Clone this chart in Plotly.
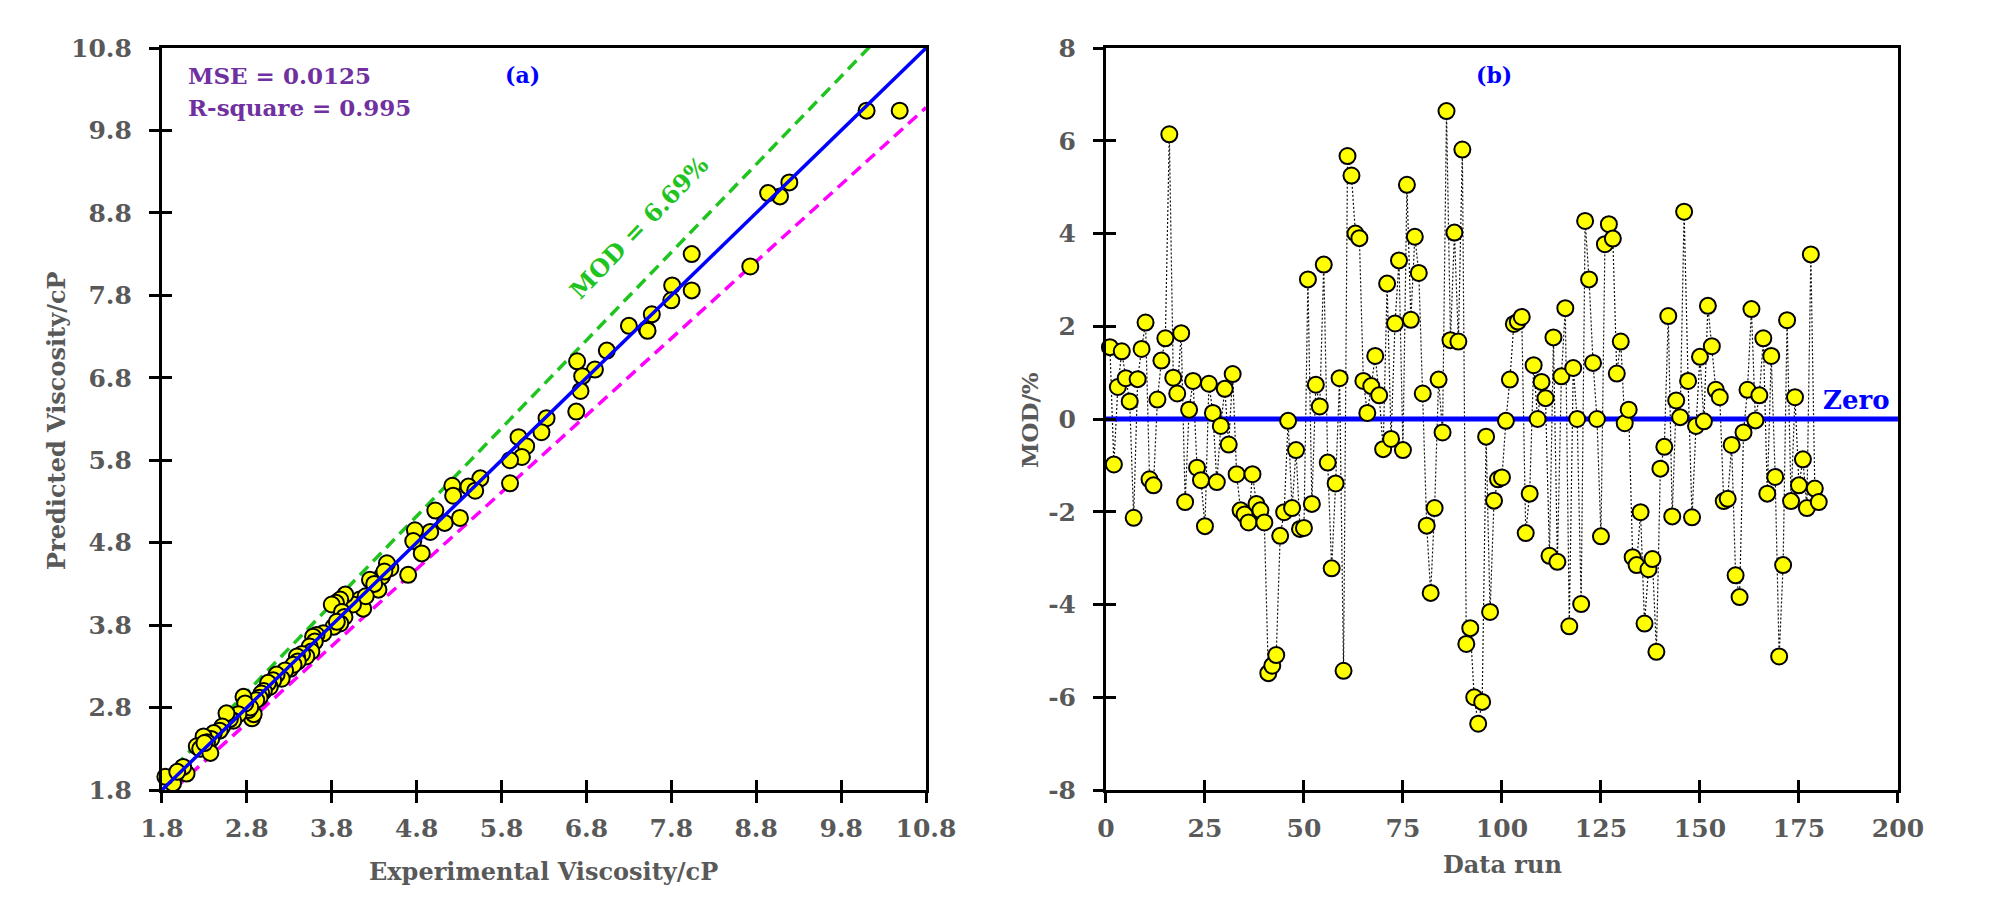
import plotly.graph_objects as go

# ---- panel (a): experimental vs predicted viscosity (cP) ----
exp_visc = [10.49, 10.10, 9.19, 9.08, 8.94, 8.73, 8.04, 8.04, 7.81, 7.80, 7.57, 7.51, 7.52, 7.30,
            7.04, 6.69, 6.90, 6.75, 6.73, 6.68, 6.33, 6.27, 6.00, 6.09, 6.04, 5.90, 5.90, 5.55,
            5.41, 5.49, 5.22, 5.23, 5.02, 5.13, 5.31, 4.96, 4.78, 4.76, 4.86, 4.70,
            4.49, 4.45, 4.39, 4.42, 4.25, 4.35, 4.30, 4.13, 4.17, 4.20, 4.05, 3.96, 3.90, 3.85,
            3.80, 3.92, 3.95, 3.90, 3.82, 3.86, 3.70, 3.62, 3.58, 3.60, 3.54, 3.56, 3.50, 3.45,
            3.39, 3.40, 3.31, 3.35, 3.25, 3.21, 3.15, 3.11, 3.07, 3.05, 3.00, 2.97, 2.95, 2.91,
            2.86, 2.88, 2.82, 2.84, 2.76, 2.78, 2.70, 2.64, 2.60, 2.56, 2.51, 2.48, 2.41, 2.38,
            2.29, 2.33, 2.21, 2.25, 2.37, 2.30, 2.09, 2.05, 1.93, 1.84, 1.98]
pred_visc = [10.04, 10.04, 9.17, 9.00, 9.04, 8.15, 8.30, 7.86, 7.92, 7.74, 7.57, 7.39, 7.37, 7.43,
             7.13, 7.00, 6.90, 6.82, 6.64, 6.39, 6.31, 6.14, 6.08, 5.97, 5.84, 5.80, 5.52, 5.58,
             5.48, 5.43, 5.49, 5.37, 5.19, 5.04, 5.10, 4.93, 4.95, 4.82, 4.67, 4.41,
             4.49, 4.55, 4.39, 4.45, 4.35, 4.23, 4.30, 4.11, 4.00, 4.15, 4.05, 4.17, 4.11, 4.07,
             4.05, 3.96, 3.90, 3.82, 3.78, 3.84, 3.70, 3.68, 3.66, 3.60, 3.54, 3.48, 3.42, 3.45,
             3.42, 3.36, 3.27, 3.32, 3.25, 3.15, 3.20, 3.13, 3.05, 3.10, 3.00, 2.97, 2.92, 2.89,
             2.67, 2.72, 2.77, 2.80, 2.93, 2.85, 2.72, 2.64, 2.66, 2.73, 2.57, 2.52, 2.49, 2.42,
             2.45, 2.38, 2.33, 2.30, 2.25, 2.37, 2.00, 2.08, 1.88, 1.96, 2.02]

mod_pct = 6.69
diag_x = [1.8, 10.8]
visc_ticks = [1.8, 2.8, 3.8, 4.8, 5.8, 6.8, 7.8, 8.8, 9.8, 10.8]

# ---- panel (b): MOD per data run (%) ----
mod_values = [1.55, -0.98, 0.69, 1.46, 0.88, 0.38, -2.13, 0.86, 1.51, 2.08,
              -1.30, -1.43, 0.42, 1.26, 1.74, 6.14, 0.89, 0.55, 1.85, -1.79,
              0.20, 0.82, -1.05, -1.32, -2.31, 0.76, 0.13, -1.36, -0.15, 0.65,
              -0.55, 0.97, -1.19, -1.97, -2.06, -2.23, -1.19, -1.83, -1.97, -2.23,
              -5.48, -5.32, -5.09, -2.52, -2.01, -0.04, -1.92, -0.67, -2.37, -2.35,
              3.01, -1.83, 0.74, 0.27, 3.33, -0.94, -3.22, -1.39, 0.88, -5.43,
              5.67, 5.25, 4.00, 3.90, 0.82, 0.13, 0.71, 1.36, 0.51, -0.65,
              2.92, -0.43, 2.06, 3.42, -0.67, 5.05, 2.14, 3.93, 3.15, 0.55,
              -2.30, -3.75, -1.92, 0.85, -0.29, 6.64, 1.70, 4.02, 1.67, 5.81,
              -4.85, -4.51, -6.00, -6.57, -6.10, -0.38, -4.16, -1.76, -1.30, -1.26,
              -0.04, 0.85, 2.05, 2.10, 2.20, -2.46, -1.61, 1.16, 0.00, 0.80,
              0.45, -2.95, 1.76, -3.08, 0.92, 2.39, -4.47, 1.10, 0.00, -3.99,
              4.27, 3.01, 1.21, 0.00, -2.53, 3.77, 4.20, 3.89, 0.98, 1.67,
              -0.09, 0.20, -2.98, -3.15, -2.01, -4.41, -3.24, -3.02, -5.02, -1.07,
              -0.60, 2.22, -2.10, 0.40, 0.04, 4.47, 0.82, -2.12, -0.15, 1.34,
              -0.05, 2.44, 1.57, 0.63, 0.47, -1.77, -1.72, -0.56, -3.37, -3.84,
              -0.29, 0.63, 2.37, -0.03, 0.51, 1.74, -1.61, 1.36, -1.25, -5.12,
              -3.15, 2.13, -1.77, 0.47, -1.43, -0.87, -1.92, 3.55, -1.50, -1.79]
data_run = list(range(1, len(mod_values) + 1))
zero_x = [0, 200]
run_ticks = [0, 25, 50, 75, 100, 125, 150, 175, 200]
mod_ticks = [-8, -6, -4, -2, 0, 2, 4, 6, 8]

FONT = "DejaVu Serif"
GREY = "#595959"
marker_style = dict(color="#FFFF00", size=16, line=dict(color="black", width=2))

fig = go.Figure()

# panel (a)
fig.add_trace(go.Scatter(x=diag_x, y=[v * (1 + mod_pct / 100) for v in diag_x], mode="lines",
                         line=dict(color="#1FC41F", width=3.5, dash="12px,7px"),
                         xaxis="x", yaxis="y", hoverinfo="skip"))
fig.add_trace(go.Scatter(x=diag_x, y=[v * (1 - mod_pct / 100) for v in diag_x], mode="lines",
                         line=dict(color="#FF00FF", width=3.5, dash="12px,7px"),
                         xaxis="x", yaxis="y", hoverinfo="skip"))
fig.add_trace(go.Scatter(x=exp_visc, y=pred_visc, mode="markers", marker=marker_style,
                         cliponaxis=False, xaxis="x", yaxis="y"))
fig.add_trace(go.Scatter(x=diag_x, y=diag_x, mode="lines",
                         line=dict(color="#0000FF", width=3.5),
                         xaxis="x", yaxis="y", hoverinfo="skip"))

# panel (b)
fig.add_trace(go.Scatter(x=data_run, y=mod_values, mode="lines",
                         line=dict(color="#111111", width=1.2, dash="2px,2px"),
                         xaxis="x2", yaxis="y2", hoverinfo="skip"))
fig.add_trace(go.Scatter(x=zero_x, y=[0, 0], mode="lines",
                         line=dict(color="#0000FF", width=5),
                         xaxis="x2", yaxis="y2", hoverinfo="skip"))
fig.add_trace(go.Scatter(x=data_run, y=mod_values, mode="markers", marker=marker_style,
                         cliponaxis=False, xaxis="x2", yaxis="y2"))

# empty traces so the inner-tick overlay axes get drawn
fig.add_trace(go.Scatter(x=[], y=[], xaxis="x3", yaxis="y3", hoverinfo="skip"))
fig.add_trace(go.Scatter(x=[], y=[], xaxis="x4", yaxis="y4", hoverinfo="skip"))

axis_common = dict(showgrid=False, zeroline=False, showline=True, linecolor="black",
                   linewidth=3, mirror=True, ticks="outside", ticklen=10, tickwidth=2.5,
                   tickcolor="black", automargin=False,
                   tickfont=dict(family=FONT, size=25, color=GREY, weight="bold"))
inner_ticks = dict(showgrid=False, zeroline=False, showline=False, ticks="inside",
                   ticklen=10, tickwidth=2.5, tickcolor="black", showticklabels=False,
                   automargin=False)

# page body adds an 8px offset, so positions are shifted by that amount
dom_a = [0.0771, 0.4597]
dom_b = [0.5498, 0.9464]
dom_y = [0.1282, 0.9554]
visc_text = [f"{v:.1f}" for v in visc_ticks]

fig.update_layout(
    width=1997, height=897,
    margin=dict(l=0, r=0, t=0, b=0, autoexpand=False),
    paper_bgcolor="white", plot_bgcolor="white",
    showlegend=False,
    xaxis=dict(domain=dom_a, range=[1.8, 10.8], tickvals=visc_ticks, ticktext=visc_text,
               anchor="y", ticklabelstandoff=4, **axis_common),
    yaxis=dict(domain=dom_y, range=[1.8, 10.8], tickvals=visc_ticks, ticktext=visc_text,
               anchor="x", ticklabelstandoff=12, **axis_common),
    xaxis2=dict(domain=dom_b, range=[0, 200], tickvals=run_ticks,
                ticktext=[str(v) for v in run_ticks], anchor="y2", ticklabelstandoff=4,
                **axis_common),
    yaxis2=dict(domain=dom_y, range=[-8, 8], tickvals=mod_ticks,
                ticktext=[str(v) for v in mod_ticks], anchor="x2", ticklabelstandoff=12,
                **axis_common),
    xaxis3=dict(overlaying="x", anchor="y", range=[1.8, 10.8], tickvals=visc_ticks, **inner_ticks),
    yaxis3=dict(overlaying="y", anchor="x", range=[1.8, 10.8], tickvals=visc_ticks, **inner_ticks),
    xaxis4=dict(overlaying="x2", anchor="y2", range=[0, 200], tickvals=run_ticks, **inner_ticks),
    yaxis4=dict(overlaying="y2", anchor="x2", range=[-8, 8], tickvals=mod_ticks, **inner_ticks),
)

def note(text, x, y, size, color, **kw):
    fig.add_annotation(text=text, x=x, y=y, xref="paper", yref="paper", showarrow=False,
                       font=dict(family=FONT, size=size, color=color, weight="bold"), **kw)

note("MSE = 0.0125", 0.0891, 0.9253, 23, "#7030A0", xanchor="left", yanchor="middle")
note("R-square = 0.995", 0.0891, 0.8896, 23, "#7030A0", xanchor="left", yanchor="middle")
note("(a)", 0.2574, 0.9253, 22, "#0000FF", xanchor="center", yanchor="middle")
note("(b)", 0.7441, 0.9253, 22, "#0000FF", xanchor="center", yanchor="middle")
note("Zero", 0.9434, 0.563, 26, "#0000FF", xanchor="right", yanchor="middle")
note("Predicted Viscosity/cP", 0.0245, 0.5407, 24, GREY, textangle=-90,
     xanchor="center", yanchor="middle")
note("Experimental Viscosity/cP", 0.2684, 0.0379, 24, GREY, xanchor="center", yanchor="middle")
note("MOD/%", 0.5118, 0.5407, 23, GREY, textangle=-90, xanchor="center", yanchor="middle")
note("Data run", 0.7486, 0.0446, 24, GREY, xanchor="center", yanchor="middle")

fig.add_annotation(text=f"MOD = {mod_pct}%", x=7.42, y=8.62, xref="x", yref="y",
                   showarrow=False, textangle=-46,
                   font=dict(family=FONT, size=24, color="#1FC41F", weight="bold"))

fig.write_html("out.html")
